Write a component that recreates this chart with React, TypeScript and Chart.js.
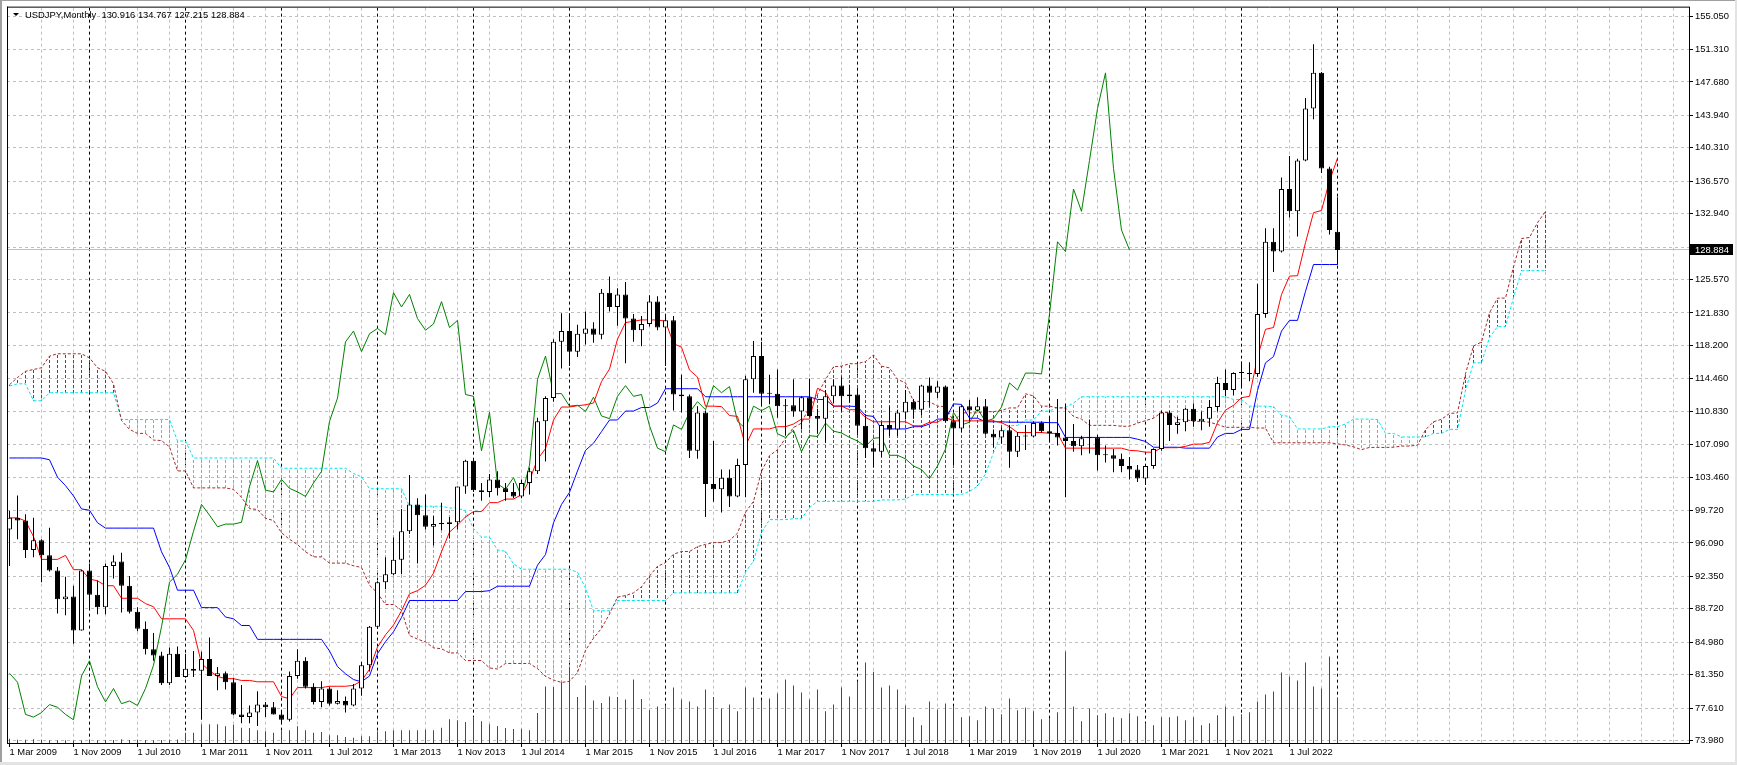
import React, { useEffect, useRef } from "react";
import { Chart, registerables } from "chart.js";

Chart.register(...registerables);

// ---------- data (monthly bars, index 0 = 1 Mar 2009) ----------
const START_YEAR = 2009;
const START_MONTH = 2; // March (0-based)
const TITLE = "USDJPY,Monthly  130.916 134.767 127.215 128.884";
const CURRENT_PRICE = 128.884;
const ICHIMOKU_SHIFT = 26;

const open = [
  97.6, 98.9, 98.6, 95.3, 96.4, 94.7, 93.0, 89.8, 90.1, 86.3,
  93.0, 90.3, 88.9, 93.5, 94.0, 91.3, 88.4, 86.5, 84.2, 83.5,
  80.4, 83.7, 81.1, 82.0, 81.8, 83.1, 81.2, 81.5, 80.5, 76.9,
  76.6, 77.1, 78.0, 77.7, 76.9, 76.3, 81.2, 82.9, 80.0, 78.3,
  79.8, 78.1, 78.4, 77.9, 79.8, 82.4, 86.7, 91.7, 92.6, 94.2,
  97.4, 100.4, 99.2, 97.9, 98.2, 98.2, 98.4, 102.4, 105.3, 102.0,
  101.8, 103.2, 102.2, 101.8, 101.3, 102.8, 104.1, 109.7, 112.3, 118.6,
  119.8, 117.5, 119.5, 120.1, 119.4, 124.1, 122.5, 123.9, 121.2, 119.9,
  120.6, 123.1, 120.2, 121.0, 112.7, 112.5, 106.4, 110.7, 102.7, 102.1,
  103.4, 101.3, 104.8, 114.4, 117.0, 112.8, 112.8, 111.4, 111.5, 110.8,
  112.4, 110.3, 110.0, 112.5, 113.7, 112.5, 112.7, 109.2, 106.7, 106.3,
  109.3, 108.8, 110.7, 111.9, 111.0, 113.7, 112.9, 113.6, 109.7, 108.9,
  111.4, 110.9, 111.4, 108.3, 107.9, 108.7, 106.3, 108.1, 108.0, 109.5,
  108.6, 108.4, 107.9, 107.5, 106.9, 107.8, 107.9, 105.9, 105.9, 105.5,
  104.7, 104.3, 103.3, 104.7, 106.6, 110.7, 109.3, 109.6, 111.1, 109.7,
  110.0, 111.3, 114.0, 113.2, 115.1, 115.1, 115.0, 121.7, 129.8, 128.7,
  135.7, 133.2, 138.9, 144.7, 148.7, 138.0, 130.916,
];

const high = [
  99.7, 101.4, 99.3, 98.9, 96.5, 97.8, 93.4, 92.3, 91.3, 93.1,
  93.8, 91.9, 93.8, 94.7, 95.0, 92.4, 88.9, 87.3, 86.0, 83.9,
  84.4, 84.5, 83.7, 84.0, 83.9, 85.5, 82.2, 81.7, 81.0, 80.2,
  77.9, 79.5, 78.3, 78.3, 77.2, 81.7, 84.2, 83.3, 80.4, 80.6,
  80.0, 79.6, 78.9, 80.3, 82.8, 86.8, 91.8, 94.5, 96.7, 99.9,
  103.7, 101.1, 101.5, 99.1, 100.6, 99.0, 102.4, 105.4, 105.4, 102.8,
  103.8, 104.1, 102.8, 102.8, 103.2, 104.5, 110.1, 112.5, 118.9, 121.8,
  121.8, 120.5, 122.0, 120.8, 124.5, 125.9, 124.6, 125.3, 121.7, 121.5,
  123.8, 123.7, 121.7, 121.5, 114.9, 112.7, 111.4, 110.9, 107.5, 104.3,
  104.3, 105.5, 114.8, 118.7, 118.6, 114.9, 115.5, 112.2, 114.4, 112.5,
  114.5, 111.1, 113.2, 114.4, 114.7, 113.8, 113.4, 110.5, 107.3, 109.6,
  111.4, 111.0, 113.2, 112.2, 113.8, 114.6, 114.2, 113.7, 110.0, 111.5,
  112.1, 112.4, 112.2, 108.8, 109.0, 109.3, 108.5, 109.3, 109.7, 109.7,
  110.3, 112.2, 111.7, 109.4, 108.1, 109.9, 108.2, 107.0, 106.6, 106.1,
  105.7, 104.8, 104.9, 106.7, 110.9, 110.9, 110.2, 111.2, 111.7, 110.8,
  112.1, 114.7, 115.5, 115.2, 116.4, 116.3, 125.1, 131.3, 131.3, 137.0,
  139.4, 139.1, 145.9, 151.9, 148.8, 138.2, 134.767,
];

const low = [
  93.5, 96.5, 94.4, 94.5, 91.7, 92.9, 88.2, 88.0, 84.8, 86.3,
  88.6, 88.1, 88.1, 92.1, 88.3, 88.2, 86.2, 83.6, 82.9, 80.2,
  80.2, 81.1, 81.0, 81.1, 76.3, 81.2, 79.6, 79.7, 76.8, 75.9,
  75.9, 75.6, 76.6, 76.9, 75.9, 76.1, 80.9, 79.8, 78.0, 77.7,
  77.9, 78.0, 77.1, 77.8, 79.0, 81.7, 86.5, 90.9, 92.5, 92.6,
  97.1, 93.8, 97.6, 95.8, 97.5, 96.6, 97.6, 101.6, 101.8, 100.8,
  101.2, 101.4, 100.8, 101.1, 101.1, 101.5, 103.8, 105.2, 111.9, 115.6,
  115.9, 116.9, 118.3, 118.5, 118.9, 122.0, 120.4, 116.2, 118.6, 118.1,
  120.3, 119.9, 115.9, 110.9, 110.7, 105.6, 105.5, 99.0, 100.7, 99.5,
  100.1, 101.2, 101.2, 112.9, 111.6, 111.6, 110.1, 108.1, 110.2, 108.8,
  110.2, 108.3, 107.3, 111.7, 110.8, 111.8, 108.3, 105.6, 104.6, 105.7,
  108.1, 108.1, 109.9, 110.0, 110.4, 111.4, 112.3, 109.6, 104.9, 108.5,
  109.7, 110.8, 108.2, 106.8, 107.2, 104.5, 105.7, 106.5, 107.9, 108.4,
  107.6, 107.0, 101.2, 106.3, 105.9, 106.1, 104.2, 105.1, 104.0, 104.0,
  103.2, 102.9, 102.6, 104.4, 106.4, 107.5, 108.3, 108.6, 109.1, 108.7,
  109.1, 110.8, 112.5, 112.6, 113.5, 114.2, 114.7, 121.3, 126.4, 128.6,
  132.5, 130.4, 138.8, 143.5, 137.5, 130.6, 127.215,
];

const close = [
  98.9, 98.6, 95.3, 96.4, 94.7, 93.0, 89.8, 90.1, 86.3, 93.0,
  90.3, 88.9, 93.5, 94.0, 91.3, 88.4, 86.5, 84.2, 83.5, 80.4,
  83.7, 81.1, 82.0, 81.8, 83.1, 81.2, 81.5, 80.5, 76.9, 76.6,
  77.1, 78.0, 77.7, 76.9, 76.3, 81.2, 82.9, 80.0, 78.3, 79.8,
  78.1, 78.4, 77.9, 79.8, 82.4, 86.7, 91.7, 92.6, 94.2, 97.4,
  100.4, 99.2, 97.9, 98.2, 98.2, 98.4, 102.4, 105.3, 102.0, 101.8,
  103.2, 102.2, 101.8, 101.3, 102.8, 104.1, 109.7, 112.3, 118.6, 119.8,
  117.5, 119.5, 120.1, 119.4, 124.1, 122.5, 123.9, 121.2, 119.9, 120.6,
  123.1, 120.2, 121.0, 112.7, 112.5, 106.4, 110.7, 102.7, 102.1, 103.4,
  101.3, 104.8, 114.4, 117.0, 112.8, 112.8, 111.4, 111.5, 110.8, 112.4,
  110.3, 110.0, 112.5, 113.7, 112.5, 112.7, 109.2, 106.7, 106.3, 109.3,
  108.8, 110.7, 111.9, 111.0, 113.7, 112.9, 113.6, 109.7, 108.9, 111.4,
  110.9, 111.4, 108.3, 107.9, 108.7, 106.3, 108.1, 108.0, 109.5, 108.6,
  108.4, 107.9, 107.5, 106.9, 107.8, 107.9, 105.9, 105.9, 105.5, 104.7,
  104.3, 103.3, 104.7, 106.6, 110.7, 109.3, 109.6, 111.1, 109.7, 110.0,
  111.3, 114.0, 113.2, 115.1, 115.1, 115.0, 121.7, 129.8, 128.7, 135.7,
  133.2, 138.9, 144.7, 148.7, 138.0, 131.1, 128.884,
];

// tick volume (relative units)
const volume = [
  43, 33, 33, 37, 33, 27, 27, 27, 25, 25,
  27, 27, 30, 30, 37, 30, 33, 30, 27, 30,
  33, 35, 103, 103, 187, 187, 187, 167, 183, 153,
  150, 127, 117, 103, 120, 127, 167, 127, 103, 110,
  77, 77, 60, 53, 67, 67, 117, 117, 127, 127,
  127, 127, 133, 127, 153, 237, 227, 210, 260, 217,
  187, 170, 150, 140, 143, 127, 300, 567, 560, 610,
  760, 460, 577, 427, 400, 467, 460, 437, 637, 440,
  333, 367, 377, 557, 437, 417, 367, 537, 460, 347,
  387, 317, 557, 457, 427, 447, 497, 637, 577, 507,
  437, 537, 317, 387, 557, 467, 617, 807, 713, 557,
  577, 537, 377, 257, 177, 417, 337, 397, 360, 257,
  267, 227, 367, 347, 287, 447, 327, 357, 317, 237,
  247, 307, 917, 367, 217, 347, 277, 297, 257, 247,
  297, 267, 197, 177, 257, 257, 267, 227, 257, 177,
  197, 277, 367, 267, 287, 307, 417, 487, 517, 707,
  667, 627, 807, 567, 547, 867, 453,
];

// Ichimoku lines
const tenkan = [
  98.9, 98.9, 98.55, 96.8, 94.25, 94.25, 94.25, 94.7, 93.1, 93.1,
  92.05, 91.85, 91.3, 91.3, 89.9, 89.9, 89.9, 89.3, 88.95, 87.6,
  87.6, 87.6, 87.6, 86.3, 82.6, 81.8, 81.15, 80.9, 80.9, 80.7,
  80.7, 80.55, 80.55, 80.55, 78.9, 78.65, 79.9, 79.9, 79.9, 79.9,
  80.05, 80.05, 80.05, 80.15, 80.65, 81.95, 84.45, 85.8, 86.9, 88.5,
  90.4, 90.75, 91.35, 92.7, 95.1, 97.3, 98.1, 99.0, 99.6, 99.6,
  100.6, 100.6, 101.0, 101.0, 101.5, 103.1, 105.45, 106.65, 109.85, 111.3,
  111.3, 111.45, 111.55, 111.75, 114.15, 115.55, 118.9, 120.75, 120.9, 121.05,
  121.05, 121.05, 120.9, 118.4, 118.0, 115.45, 114.65, 111.4, 111.4, 111.35,
  110.35, 110.25, 106.95, 108.85, 108.85, 108.85, 109.1, 109.1, 109.4, 109.95,
  109.95, 113.4, 112.95, 111.4, 111.4, 111.0, 111.0, 110.15, 109.65, 109.65,
  109.65, 109.65, 109.65, 109.2, 109.2, 109.6, 109.6, 110.15, 109.75, 109.75,
  109.75, 109.75, 109.75, 109.75, 109.55, 109.1, 108.45, 108.45, 108.45, 108.45,
  108.35, 108.35, 106.7, 106.7, 106.7, 106.7, 106.7, 106.7, 106.7, 106.7,
  106.45, 106.4, 106.25, 106.25, 106.75, 106.75, 106.75, 106.9, 107.15, 107.15,
  107.35, 109.55, 110.95, 111.5, 112.35, 112.5, 116.9, 120.0, 120.2, 123.9,
  125.95, 126.0, 129.7, 133.05, 133.3, 136.6, 139.15,
];

const kijun = [
  105.6, 105.6, 105.6, 105.6, 105.6, 105.4, 103.45, 102.5, 101.35, 99.9,
  99.75, 98.35, 97.75, 97.75, 97.75, 97.75, 97.75, 97.75, 97.75, 95.1,
  93.35, 90.8, 90.8, 90.8, 88.85, 88.85, 88.85, 87.8, 87.6, 86.85,
  86.85, 85.3, 85.3, 85.3, 85.3, 85.3, 85.3, 85.3, 85.3, 85.3,
  84.0, 82.25, 81.45, 80.8, 80.55, 81.2, 83.7, 85.05, 86.15, 87.75,
  89.65, 89.65, 89.65, 89.65, 89.65, 89.65, 89.65, 90.65, 90.65, 90.65,
  90.75, 91.25, 91.25, 91.25, 91.25, 91.25, 93.6, 94.8, 98.35, 100.4,
  101.75, 104.15, 106.45, 107.25, 108.55, 109.85, 109.85, 110.85, 110.85, 111.25,
  111.25, 111.75, 113.35, 113.35, 113.35, 113.35, 113.35, 112.45, 112.45, 112.45,
  112.45, 112.45, 112.45, 112.45, 112.45, 112.45, 112.45, 112.45, 112.45, 112.45,
  112.45, 112.15, 112.15, 111.4, 111.4, 111.4, 111.35, 110.35, 110.25, 108.85,
  108.85, 108.85, 108.85, 109.1, 109.1, 109.4, 109.95, 109.95, 111.65, 111.6,
  110.05, 110.05, 109.65, 109.65, 109.65, 109.6, 109.6, 109.6, 109.6, 109.6,
  109.55, 109.55, 107.9, 107.9, 107.9, 107.9, 107.9, 107.9, 107.9, 107.9,
  107.9, 107.7, 107.45, 106.8, 106.8, 106.8, 106.8, 106.7, 106.7, 106.7,
  106.7, 107.95, 108.35, 108.35, 108.8, 108.8, 113.15, 116.25, 116.95, 119.8,
  121.0, 121.0, 124.25, 127.25, 127.25, 127.25, 127.25,
];

// Senkou spans, already placed 26 bars ahead (index 0 = Mar 2009, last = Mar 2025)
const spanA = [
  113.8, 114.6, 115.3, 115.5, 115.7, 117.0, 117.26, 117.26, 117.26, 117.26,
  116.8, 115.7, 115.3, 113.9, 109.8, 108.8, 108.35, 108.35, 107.6, 107.55,
  106.85, 104.15, 104.15, 102.25, 102.25, 102.25,
  102.25, 102.25, 102.08, 101.2, 99.93, 99.83, 98.85, 98.6, 97.23, 96.5,
  95.9, 95.1, 94.53, 94.53, 93.83, 93.83, 93.83, 93.53, 93.35, 91.35,
  90.48, 89.2, 89.2, 88.55, 85.73, 85.33, 85.0, 84.35, 84.25, 83.78,
  83.78, 82.93, 82.93, 82.93, 82.1, 81.98, 82.6, 82.6, 82.6, 82.6,
  82.03, 81.15, 80.75, 80.48, 80.6, 81.58, 84.08, 85.43, 86.53, 88.13,
  90.03, 90.2, 90.5, 91.18, 92.38, 93.48, 93.88, 94.83, 95.13, 95.13,
  95.68, 95.93, 96.13, 96.13, 96.38, 97.18, 99.53, 100.73, 104.1, 105.85,
  106.53, 107.8, 109.0, 109.5, 111.35, 112.7, 114.38, 115.8, 115.88, 116.15,
  116.15, 116.4, 117.13, 115.88, 115.68, 114.4, 114.0, 111.93, 111.93, 111.9,
  111.4, 111.35, 109.7, 110.65, 110.65, 110.65, 110.78, 110.78, 110.93, 111.2,
  111.2, 112.78, 112.55, 111.4, 111.4, 111.2, 111.18, 110.25, 109.95, 109.25,
  109.25, 109.25, 109.25, 109.15, 109.15, 109.5, 109.78, 110.05, 110.7, 110.68,
  109.9, 109.9, 109.7, 109.7, 109.6, 109.35, 109.03, 109.03, 109.03, 109.03,
  108.95, 108.95, 107.3, 107.3, 107.3, 107.3, 107.3, 107.3, 107.3, 107.3,
  107.18, 107.05, 106.85, 106.53, 106.78, 106.78, 106.78, 106.8, 106.93, 106.93,
  107.03, 108.75, 109.65, 109.93, 110.58, 110.65, 115.03, 118.13, 118.58, 121.85,
  123.48, 123.5, 126.98, 130.15, 130.28, 131.93, 133.2,
];

const spanB = [
  113.65, 113.9, 113.9, 112.0, 112.0, 112.9, 112.9, 112.9, 112.9, 112.9,
  112.9, 112.9, 112.9, 112.9, 109.9, 109.9, 109.9, 109.9, 109.9, 109.9,
  109.9, 107.5, 107.5, 105.6, 105.6, 105.6, 105.6, 105.6, 105.6, 105.6,
  105.6, 105.6, 105.6, 105.6, 104.45, 104.45, 104.45, 104.45, 104.45, 104.45,
  104.45, 104.45, 104.45, 103.85, 103.5, 102.15, 102.15, 102.15, 102.15, 102.15,
  100.2, 100.2, 100.2, 100.2, 100.2, 100.0, 100.0, 99.65, 97.7, 96.75,
  96.75, 95.3, 95.15, 93.75, 93.15, 93.15, 93.15, 93.15, 93.15, 93.15,
  93.15, 92.8, 91.05, 88.5, 88.5, 88.5, 89.65, 89.65, 89.65, 89.65,
  89.65, 89.65, 89.65, 90.5, 90.5, 90.5, 90.5, 90.5, 90.5, 90.5,
  90.5, 90.5, 92.85, 94.05, 97.25, 98.7, 98.7, 98.7, 98.8, 98.8,
  100.05, 100.75, 100.75, 100.75, 100.75, 100.75, 100.75, 100.75, 100.75, 100.9,
  100.9, 100.9, 101.0, 101.5, 101.5, 101.5, 101.5, 101.5, 101.5, 101.5,
  101.85, 102.45, 103.8, 106.2, 108.4, 109.2, 109.25, 109.85, 109.85, 110.85,
  110.85, 111.25, 111.25, 111.75, 112.45, 112.45, 112.45, 112.45, 112.45, 112.45,
  112.45, 112.45, 112.45, 112.45, 112.45, 112.45, 112.45, 112.45, 112.45, 112.45,
  112.45, 112.45, 112.45, 112.15, 112.15, 111.4, 111.4, 111.4, 111.35, 110.35,
  110.25, 108.85, 108.85, 108.85, 108.85, 109.1, 109.1, 109.4, 109.95, 109.95,
  109.95, 109.9, 108.35, 108.35, 107.95, 107.95, 107.95, 107.95, 108.35, 108.35,
  108.8, 108.8, 113.15, 116.25, 116.25, 119.1, 120.3, 120.3, 123.55, 126.55,
  126.55, 126.55, 126.55,
];

const yTickValues = [
  73.98, 77.61, 81.35, 84.98, 88.72, 92.35, 96.09, 99.72, 103.46, 107.09,
  110.83, 114.46, 118.2, 121.83, 125.57, 129.2, 132.94, 136.57, 140.31,
  143.94, 147.68, 151.31, 155.05,
];

const xTickLabels = [
  "1 Mar 2009", "1 Nov 2009", "1 Jul 2010", "1 Mar 2011", "1 Nov 2011",
  "1 Jul 2012", "1 Mar 2013", "1 Nov 2013", "1 Jul 2014", "1 Mar 2015",
  "1 Nov 2015", "1 Jul 2016", "1 Mar 2017", "1 Nov 2017", "1 Jul 2018",
  "1 Mar 2019", "1 Nov 2019", "1 Jul 2020", "1 Mar 2021", "1 Nov 2021",
  "1 Jul 2022",
];
const X_LABEL_STEP = 8; // bars between date labels
const X_GRID_STEP = 4; // bars between vertical grid lines

// ---------- style / layout ----------
const W = 1737;
const H = 765;
const FONT = '"Liberation Sans", Arial, sans-serif';
const FONT_SIZE = 9.4;
const X_MIN = -0.3125;
const X_MAX = 209.9375;
const Y_MIN = 73.7;
const Y_MAX = 156.0;
const VOL_MAX = 7370;
const RED = "#ff0000";
const BLUE = "#0000ff";
const GREEN = "#008000";
const BROWN = "#a52a2a";
const AQUA = "#00e6f0";
const GRID = "#c0c0c0";

function makeHatch(color: string): CanvasPattern | string {
  const c = document.createElement("canvas");
  c.width = 1;
  c.height = 5;
  const g = c.getContext("2d");
  if (!g) return color;
  g.fillStyle = color;
  g.fillRect(0, 0, 1, 3);
  return g.createPattern(c, "repeat") || color;
}

const mt4Plugin = {
  id: "mt4",
  beforeDatasetsDraw(chart: any) {
    const { ctx, chartArea: a, scales } = chart;
    const xs = scales.x;
    const ys = scales.y;
    ctx.save();
    ctx.beginPath();
    ctx.rect(a.left, a.top, a.right - a.left, a.bottom - a.top);
    ctx.clip();
    // period separators (each January)
    ctx.strokeStyle = "#000";
    ctx.lineWidth = 1;
    ctx.setLineDash([3, 3]);
    for (let i = 0; i < close.length; i++) {
      if ((START_MONTH + i) % 12 !== 0) continue;
      const x = Math.floor(xs.getPixelForValue(i)) + 0.5;
      ctx.beginPath();
      ctx.moveTo(x, a.top);
      ctx.lineTo(x, a.bottom);
      ctx.stroke();
    }
    // bid line
    ctx.setLineDash([]);
    ctx.strokeStyle = GRID;
    const py = Math.floor(ys.getPixelForValue(CURRENT_PRICE)) + 0.5;
    ctx.beginPath();
    ctx.moveTo(a.left, py);
    ctx.lineTo(a.right, py);
    ctx.stroke();
    ctx.restore();
  },
  afterDraw(chart: any) {
    const { ctx, chartArea: a, scales } = chart;
    const ys = scales.y;
    ctx.save();
    // window chrome
    ctx.fillStyle = "#a0a0a0";
    ctx.fillRect(0, 0, 2, H);
    ctx.fillRect(0, 0, W, 1);
    ctx.fillStyle = "#e3e3e3";
    ctx.fillRect(0, H - 3, W, 3);
    ctx.fillRect(W - 2, 0, 2, H);
    // chart frame (left + top)
    ctx.strokeStyle = "#000";
    ctx.lineWidth = 1;
    ctx.beginPath();
    ctx.moveTo(a.left + 0.5, a.top - 1);
    ctx.lineTo(a.left + 0.5, a.bottom);
    ctx.moveTo(a.left, a.top - 0.5);
    ctx.lineTo(a.right + 1, a.top - 0.5);
    ctx.stroke();
    // title
    ctx.fillStyle = "#000";
    ctx.beginPath();
    ctx.moveTo(13, 13);
    ctx.lineTo(19, 13);
    ctx.lineTo(16, 16);
    ctx.closePath();
    ctx.fill();
    ctx.font = `${FONT_SIZE}px ${FONT}`;
    ctx.textBaseline = "middle";
    ctx.textAlign = "left";
    ctx.fillText(TITLE, 25, 15);
    // current price box
    const py = Math.floor(ys.getPixelForValue(CURRENT_PRICE)) + 0.5;
    ctx.fillStyle = "#000";
    ctx.fillRect(a.right + 1, py - 5.5, 43, 11);
    ctx.fillStyle = "#fff";
    ctx.fillText(CURRENT_PRICE.toFixed(3), a.right + 6, py + 0.5);
    ctx.restore();
  },
};

function isLabelTick(v: number) {
  return v % X_LABEL_STEP === 0 && v / X_LABEL_STEP < xTickLabels.length && v >= 0;
}

export default function App() {
  const ref = useRef<HTMLCanvasElement>(null);

  useEffect(() => {
    const canvas = ref.current;
    if (!canvas) return;
    const brownHatch = makeHatch(BROWN);
    const aquaHatch = makeHatch(AQUA);

    const cloudBars = spanA.map((a, i) => ({ x: i, y: [a, spanB[i]] }));
    const lineOf = (arr: number[], shift = 0) => arr.map((v, i) => ({ x: i + shift, y: v }));

    const datasets: any[] = [
      {
        type: "bar",
        data: cloudBars,
        backgroundColor: (c: any) =>
          spanA[c.dataIndex] > spanB[c.dataIndex] ? brownHatch : aquaHatch,
        borderWidth: 0,
        barThickness: 1,
        grouped: false,
        inflateAmount: 0,
        order: 10,
        yAxisID: "y",
      },
      {
        type: "line",
        data: lineOf(spanA),
        borderColor: BROWN,
        borderWidth: 1,
        borderDash: [3, 2],
        pointRadius: 0,
        tension: 0,
        order: 9,
        yAxisID: "y",
      },
      {
        type: "line",
        data: lineOf(spanB),
        borderColor: AQUA,
        borderWidth: 1,
        borderDash: [3, 2],
        pointRadius: 0,
        tension: 0,
        order: 9,
        yAxisID: "y",
      },
      {
        type: "bar",
        data: lineOf(volume),
        backgroundColor: GREEN,
        borderWidth: 0,
        barThickness: 1,
        grouped: false,
        inflateAmount: 0,
        order: 8,
        yAxisID: "yVol",
      },
      {
        type: "line",
        data: lineOf(close.slice(ICHIMOKU_SHIFT)),
        borderColor: GREEN,
        borderWidth: 1,
        pointRadius: 0,
        tension: 0,
        order: 7,
        yAxisID: "y",
      },
      {
        type: "line",
        data: lineOf(kijun),
        borderColor: BLUE,
        borderWidth: 1,
        pointRadius: 0,
        tension: 0,
        order: 6,
        yAxisID: "y",
      },
      {
        type: "line",
        data: lineOf(tenkan),
        borderColor: RED,
        borderWidth: 1,
        pointRadius: 0,
        tension: 0,
        order: 5,
        yAxisID: "y",
      },
      {
        type: "bar",
        data: high.map((h, i) => ({ x: i, y: [low[i], h] })),
        backgroundColor: "#000",
        borderWidth: 0,
        barThickness: 1,
        grouped: false,
        inflateAmount: 0,
        order: 2,
        yAxisID: "y",
      },
      {
        type: "bar",
        data: open.map((o, i) => ({ x: i, y: [o, close[i]] })),
        backgroundColor: (c: any) =>
          close[c.dataIndex] > open[c.dataIndex] ? "#ffffff" : "#000000",
        borderColor: "#000",
        borderWidth: 1,
        borderSkipped: false,
        barThickness: 5,
        minBarLength: 1,
        grouped: false,
        inflateAmount: 0,
        order: 1,
        yAxisID: "y",
      },
    ];

    const tickFont = { family: FONT, size: FONT_SIZE };

    const chart = new Chart(canvas, {
      type: "bar",
      data: { datasets },
      plugins: [mt4Plugin],
      options: {
        animation: false,
        responsive: false,
        devicePixelRatio: 1,
        events: [],
        layout: { padding: { left: 7, top: 6, right: 0, bottom: 0 } },
        plugins: {
          legend: { display: false },
          tooltip: { enabled: false },
          title: { display: false },
        },
        scales: {
          x: {
            type: "linear",
            min: X_MIN,
            max: X_MAX,
            offset: false,
            grid: {
              offset: false,
              color: (c: any) =>
                c.tick && c.tick.value > 0 ? GRID : "rgba(0,0,0,0)",
              tickColor: (c: any) =>
                c.tick && isLabelTick(c.tick.value) ? "#000" : "rgba(0,0,0,0)",
              tickLength: 4,
              lineWidth: 1,
            },
            border: { display: true, color: "#000", width: 1, dash: [3, 3] },
            ticks: {
              autoSkip: false,
              maxRotation: 0,
              minRotation: 0,
              align: "start",
              padding: 0,
              color: "#000",
              font: tickFont,
              callback: (value: any) => {
                const v = Number(value);
                return isLabelTick(v) ? xTickLabels[v / X_LABEL_STEP] : "";
              },
            },
            afterBuildTicks: (s: any) => {
              const t: any[] = [];
              for (let v = 0; v <= X_MAX; v += X_GRID_STEP) t.push({ value: v });
              s.ticks = t;
            },
            afterFit: (s: any) => {
              s.height = 22;
            },
          } as any,
          y: {
            type: "linear",
            position: "right",
            min: Y_MIN,
            max: Y_MAX,
            beginAtZero: false,
            grid: {
              color: GRID,
              tickColor: "#000",
              tickLength: 4,
              lineWidth: 1,
            },
            border: { display: true, color: "#000", width: 1, dash: [3, 3] },
            ticks: {
              padding: 2,
              color: "#000",
              font: tickFont,
              callback: (value: any) => Number(value).toFixed(3),
            },
            afterBuildTicks: (s: any) => {
              s.ticks = yTickValues.map((v) => ({ value: v }));
            },
            afterFit: (s: any) => {
              s.width = 48;
            },
          } as any,
          yVol: {
            type: "linear",
            display: false,
            min: 0,
            max: VOL_MAX,
          },
        },
      } as any,
    });

    return () => chart.destroy();
  }, []);

  return (
    <div
      style={{
        position: "absolute",
        left: 0,
        top: 0,
        width: W,
        height: H,
        background: "#ffffff",
        overflow: "hidden",
      }}
    >
      <canvas
        ref={ref}
        width={W}
        height={H}
        style={{ display: "block", width: W, height: H }}
      />
    </div>
  );
}
